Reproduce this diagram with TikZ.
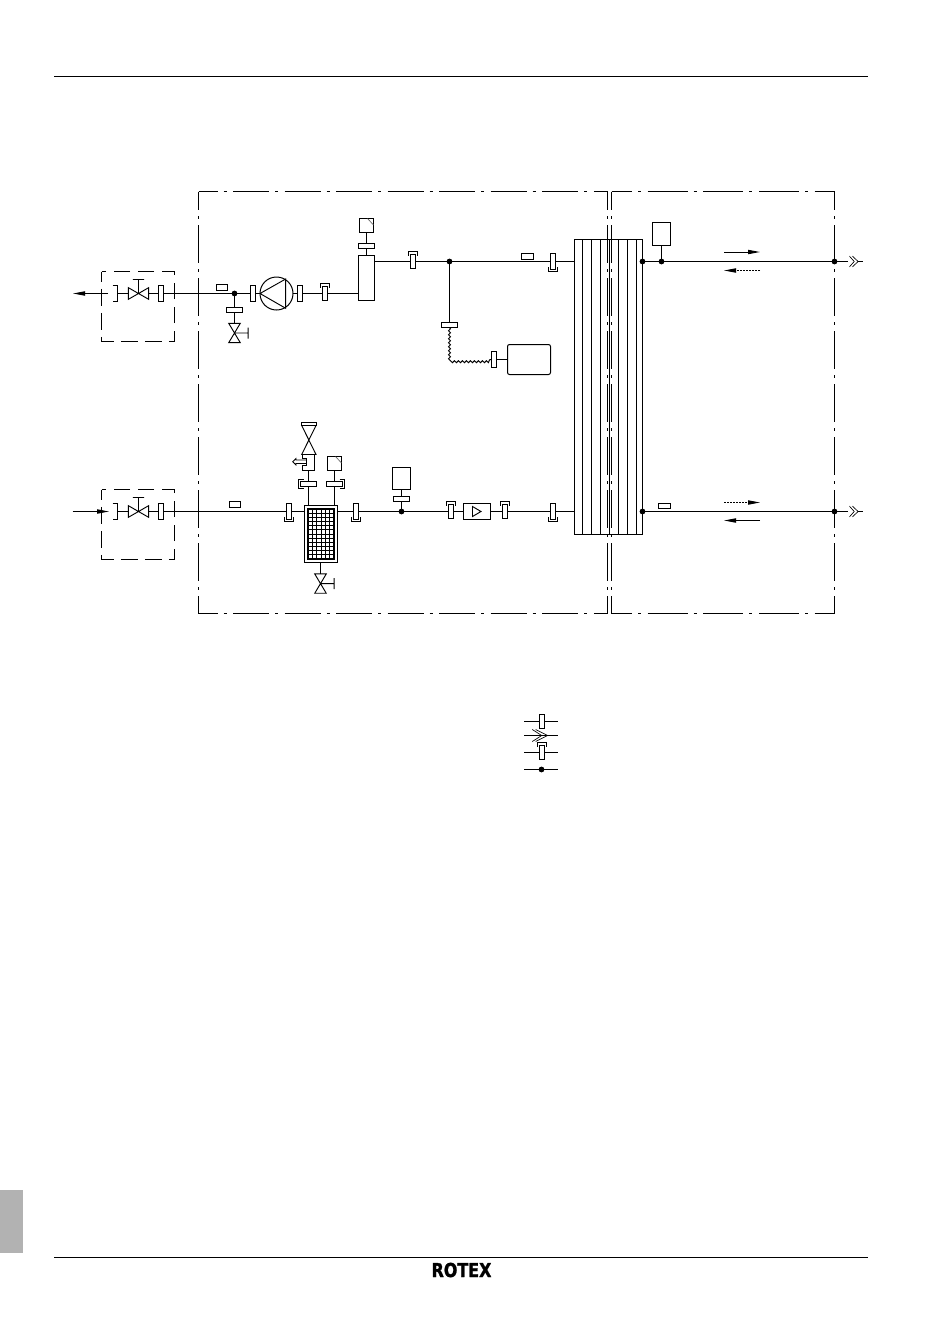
\documentclass[tikz,border=0pt]{standalone}
\usepackage{fontspec}
\usetikzlibrary{arrows.meta,decorations.pathmorphing}
\newfontfamily\logofont[FakeBold=1.6]{DejaVu Sans Bold}
\def\px{0.75pt}
\tikzset{
  pipe/.style={line width=0.75pt},
  flange/.style={rectangle, draw, line width=0.75pt, inner sep=0pt, outer sep=0pt, minimum width=5*\px, minimum height=14*\px},
  flangeopen/.style={rectangle, inner sep=0pt, outer sep=0pt, minimum width=5*\px, minimum height=16*\px},
  bar/.style={rectangle, draw, line width=0.75pt, inner sep=0pt, outer sep=0pt, minimum width=16*\px, minimum height=5*\px},
  tag/.style={rectangle, draw, line width=0.75pt, inner sep=0pt, outer sep=0pt, minimum width=11*\px, minimum height=6*\px},
  unit/.style={rectangle, draw, line width=0.75pt, inner sep=0pt, outer sep=0pt},
  valve/.style={rectangle, inner sep=0pt, outer sep=0pt, minimum width=20.4*\px, minimum height=11.7*\px},
  valvev/.style={rectangle, inner sep=0pt, outer sep=0pt, minimum width=11.5*\px, minimum height=19.3*\px},
  junction/.style={circle, fill=black, inner sep=0pt, outer sep=0pt, minimum size=5.8*\px},
  framev/.style={line width=0.75pt, dash pattern=on 28.5pt off 4.5pt on 2.25pt off 4.5pt, dash phase=14.6pt},
  frameh/.style={line width=0.75pt, dash pattern=on 27pt off 4.5pt on 2.25pt off 4.9pt, dash phase=12.75pt},
  framer/.style={line width=0.75pt, dash pattern=on 30pt off 4.5pt on 2.25pt off 5pt, dash phase=14.6pt},
  dashbox/.style={line width=0.75pt, dash pattern=on 12.5pt off 5.5pt, dash phase=5pt},
  flowtip/.style={-{Triangle[length=9pt,width=3.2pt]}, line width=0.7pt},
  flowdash/.style={flowtip, dash pattern=on 1.5pt off 0.8pt}
}
\begin{document}
\begin{tikzpicture}[x=0.75pt, y=-0.75pt]
      \useasboundingbox[fill=white] (0,0) rectangle (950,1343);
      \draw[line width=0.75pt] (54,76.5) -- (868,76.5);
      \draw[line width=0.75pt] (54,1257.5) -- (868,1257.5);
      \fill[black!30] (0,1190) rectangle (23,1253);
      \node[inner sep=0pt, xscale=0.83] (logo) at (461.5,1270) {\logofont\fontsize{14.4pt}{14.4pt}\selectfont ROTEX};

      \draw[dashbox] (101.5,271.5) rectangle (174.5,341.5);
      \draw[dashbox] (101.5,489.5) rectangle (174.5,559.5);

      \coordinate (outA) at (108,293.5);
      \coordinate (tipA) at (73,293.5);
      \node[flangeopen] (brkA) at (115,293.5) {};
      \node[valve] (valveA) at (138.5,293.5) {};
      \node[flange, minimum height=16*\px] (flgA1) at (161,293.5) {};
      \node[tag] (tagA) at (222,287.5) {};
      \node[junction] (dotA) at (234.5,293.5) {};
      \node[bar] (barA) at (234.5,310) {};
      \node[valvev] (drainA) at (234.5,333) {};
      \node[flange, minimum height=16*\px] (flgA2) at (253,293.5) {};
      \node[circle, draw, line width=0.75pt, inner sep=0pt, outer sep=0pt, minimum size=33*\px] (pump) at (276.5,293.5) {};
      \node[flange, minimum height=16*\px] (flgA3) at (300,293.5) {};
      \node[flange] (flgA4) at (325,293.5) {};
      \node[unit, minimum width=16*\px, minimum height=45*\px] (tank) at (366.5,278) {};
      \coordinate (tankin) at (358.5,293.5);
      \coordinate (tankout) at (374.5,261.5);
      \node[bar] (barT) at (366.5,246) {};
      \node[unit, minimum size=14*\px] (sensT) at (366.5,225.5) {};

      \node[flange] (flgB1) at (413,261.5) {};
      \node[junction] (dotB1) at (449.5,261.5) {};
      \node[bar] (barH) at (449.5,325) {};
      \node[flange, minimum height=16*\px] (flgH) at (494,359.5) {};
      \node[unit, rounded corners=1.5pt, minimum width=43*\px, minimum height=30*\px] (vessel) at (529,359.5) {};
      \node[tag, minimum width=12*\px] (tagB) at (527.5,256.5) {};
      \node[flange, minimum height=16*\px] (flgB2) at (553,261.5) {};
      \node[unit, minimum width=68*\px, minimum height=295*\px] (hx) at (608.5,387) {};
      \coordinate (hxA) at (574.5,261.5);
      \coordinate (hxB) at (574.5,511.5);
      \node[junction] (dotB2) at (642.5,261.5) {};
      \node[junction] (dotB3) at (661.5,261.5) {};
      \node[unit, minimum width=18*\px, minimum height=23*\px] (sensB) at (661.5,234) {};
      \node[junction] (dotB4) at (834.5,261.5) {};
      \coordinate (chevB) at (849.5,261.5);
      \coordinate (endB) at (863,261.5);

      \coordinate (inC) at (72.7,511.5);
      \coordinate (tipC) at (109,511.5);
      \node[flangeopen] (brkC) at (115,511.5) {};
      \node[valve] (valveC) at (138.5,511.5) {};
      \node[flange, minimum height=16*\px] (flgC1) at (161,511.5) {};
      \node[tag] (tagC) at (235,504.5) {};
      \node[flange, minimum height=16*\px] (flgC2) at (289,511.5) {};
      \node[unit, minimum width=33*\px, minimum height=57*\px] (filter) at (321,534) {};
      \coordinate (filterin) at (304.5,511.5);
      \coordinate (filterout) at (337.5,511.5);
      \coordinate (filterl) at (308.5,505.5);
      \coordinate (filterr) at (334.5,505.5);
      \coordinate (filterb) at (320.5,562.5);
      \node[valvev] (drainC) at (320.5,583.6) {};
      \node[bar] (barL) at (308.5,484) {};
      \node[bar] (barR) at (334.5,484) {};
      \coordinate (bodyL) at (308.5,470.5);
      \node[unit, minimum size=14*\px] (sensC) at (334.5,463.5) {};
      \node[flange, minimum height=16*\px] (flgC3) at (356,511.5) {};
      \node[junction] (dotC1) at (401.5,511.5) {};
      \node[bar] (barD) at (401.5,499) {};
      \node[unit, minimum width=18*\px, minimum height=22*\px] (sensD) at (401.5,478.5) {};
      \node[flange] (flgC4) at (451,511.5) {};
      \node[unit, minimum width=27*\px, minimum height=16*\px] (meter) at (477,511.5) {};
      \node[flange] (flgC5) at (505,511.5) {};
      \node[flange, minimum height=16*\px] (flgC6) at (553,511.5) {};
      \node[junction] (dotC2) at (642.5,511.5) {};
      \node[tag, minimum width=12*\px, minimum height=5*\px] (tagD) at (664.5,506) {};
      \node[junction] (dotC3) at (834.5,511.5) {};
      \coordinate (chevC) at (849.5,511.5);
      \coordinate (endC) at (863,511.5);

      \foreach \source/\dest in {brkA/valveA, valveA/flgA1, flgA1/dotA, dotA/flgA2, flgA2/pump, pump/flgA3, flgA3/flgA4, flgA4/tankin, dotA/barA, barA/drainA, tankout/flgB1, flgB1/dotB1, dotB1/flgB2, flgB2/hxA, dotB2/dotB3, dotB3/dotB4, dotB3/sensB, tank/barT, barT/sensT, flgH/vessel, brkC/valveC, valveC/flgC1, flgC1/flgC2, flgC2/filterin, filterout/flgC3, flgC3/dotC1, dotC1/flgC4, flgC4/meter, meter/flgC5, flgC5/flgC6, flgC6/hxB, dotC2/dotC3, filterb/drainC, dotC1/barD, barD/sensD, filterr/barR, barR/sensC, filterl/barL, barL/bodyL, dotB1/barH}
        \draw[pipe] (\source) -- (\dest);
      \draw[pipe] (dotB4) -- (848,261.5);
      \draw[pipe] (dotC3) -- (848,511.5);
      \draw[pipe] (858,261.5) -- (endB);
      \draw[pipe] (858,511.5) -- (endC);

      \draw[flowtip] (outA) -- (tipA);
      \draw[flowtip] (inC) -- (tipC);
      \draw[flowtip] (724,252) -- (760,252);
      \draw[flowdash] (760,270.5) -- (724,270.5);
      \draw[flowdash] (724,502.5) -- (760,502.5);
      \draw[flowtip] (760,520.5) -- (724,520.5);

      \foreach \n in {valveA,valveC}
        \draw[line width=0.7pt] (\n.north west) -- (\n.south east) -- (\n.north east) -- (\n.south west) -- cycle
          (\n.center) -- ++(0,-14) ++(-5.6,0) -- ++(11.2,0);
      \foreach \n in {drainA,drainC}
        \draw[line width=0.7pt] (\n.north west) -- (\n.north east) -- (\n.south west) -- (\n.south east) -- cycle
          (\n.center) -- ++(13.7,0) ++(0,-5.5) -- ++(0,11);
      \foreach \n in {brkA,brkC}
        \draw[line width=0.75pt] (\n.north west) -- (\n.north east) -- (\n.south east) -- (\n.south west);
      \foreach \n in {flgA4,flgB1,flgC4,flgC5}
        \draw[line width=0.75pt] ([shift={(-4.5,1)}]\n.north) -- ++(0,-4.5) -- ++(9,0) -- ++(0,4.5);
      \foreach \n in {flgB2,flgC2,flgC3,flgC6}
        \draw[line width=0.75pt] ([shift={(-4.5,-2.5)}]\n.south) -- ++(0,4.5) -- ++(9,0) -- ++(0,-4.5);
      \draw[line width=0.75pt] ([shift={(3,-2)}]barL.north west) -- ++(-5,0) -- ++(0,9) -- ++(5,0);
      \draw[line width=0.75pt] ([shift={(-3,-2)}]barR.north east) -- ++(5,0) -- ++(0,9) -- ++(-5,0);

      \foreach \n in {sensT,sensC}
        \draw[line width=0.5pt, black!60] ([xshift=-6*\px]\n.north east) -- ([yshift=-6.5*\px]\n.north east);

      \draw[line width=0.7pt] (pump.west) -- (285.7,279) -- (285.7,308.3) -- cycle;
      \draw[line width=0.7pt] (472.5,506.5) -- (481,511.5) -- (472.5,516.5) -- cycle;

      \draw[pipe, decorate, decoration={snake, amplitude=0.7pt, segment length=3pt}] (barH.south) |- (flgH.west);

      \foreach \x in {582.5,591.5,600.5,609.5,618.5,627.5,636.5}
        \draw[line width=0.75pt] (\x,239.5) -- (\x,534.5);

      \draw[line width=1.3pt] (308,509) rectangle (334,559);
      \foreach \x in {312.5,316.5,321.5,325.5,329.5}
        \draw[line width=0.6pt] (\x,509) -- (\x,559);
      \foreach \y in {513.5,517.5,521.5,525.5,529.5,534.5,538.5,542.5,546.5,550.5,554.5}
        \draw[line width=0.6pt] (308,\y) -- (334,\y);

      \draw[line width=0.7pt] (301.7,425.5) -- (316,454.5) -- (301.7,454.5) -- (316,425.5) -- cycle;
      \draw[line width=0.75pt] (301.5,422.5) rectangle (316.5,425.5);
      \draw[line width=0.75pt] (302.5,454.5) -- (302.5,458.5) -- (306.5,458.5) -- (306.5,465.5) -- (302.5,465.5) -- (302.5,470.5) -- (314.5,470.5) -- (314.5,454.5);
      \draw[line width=0.6pt] (306.5,460) -- (296,460) -- (296,458.5) -- (292.7,461.7) -- (296,465) -- (296,463.4) -- (306.5,463.4);

      \foreach \x in {198.5,607.5,611.5,834.5}
        \draw[framev] (\x,191.5) -- (\x,613.5);
      \draw[frameh] (198.5,191.5) -- (607.5,191.5);
      \draw[frameh] (198.5,613.5) -- (607.5,613.5);
      \draw[framer] (611.5,191.5) -- (834.5,191.5);
      \draw[framer] (611.5,613.5) -- (834.5,613.5);

      \foreach \c in {chevB,chevC}
        \draw[line width=0.5pt] ([shift={(0,-5.3)}]\c) -- ++(4.7,5.3) -- ++(-4.7,5.3)
          ([shift={(3,-5.3)}]\c) -- ++(5.6,5.3) -- ++(-5.6,5.3);

      \node[flange] (legA) at (542,721.5) {};
      \node[flange] (legC) at (542,752.5) {};
      \node[junction] (legD) at (541.5,769.5) {};
      \foreach \n/\y in {legA/721.5,legC/752.5,legD/769.5} {
        \draw[line width=0.7pt] (524,\y) -- (\n);
        \draw[line width=0.7pt] (\n) -- (558,\y);
      }
      \draw[line width=0.7pt] (524,735.5) -- (558,735.5);
      \draw[line width=0.5pt] (532.3,729.5) -- (541.7,735.5) -- (532.3,741.5) (535.7,729.5) -- (547.7,735.5) -- (535.7,741.5);
      \draw[line width=0.75pt] ([shift={(-4.5,1)}]legC.north) -- ++(0,-4.5) -- ++(9,0) -- ++(0,4.5);
\end{tikzpicture}
\end{document}
